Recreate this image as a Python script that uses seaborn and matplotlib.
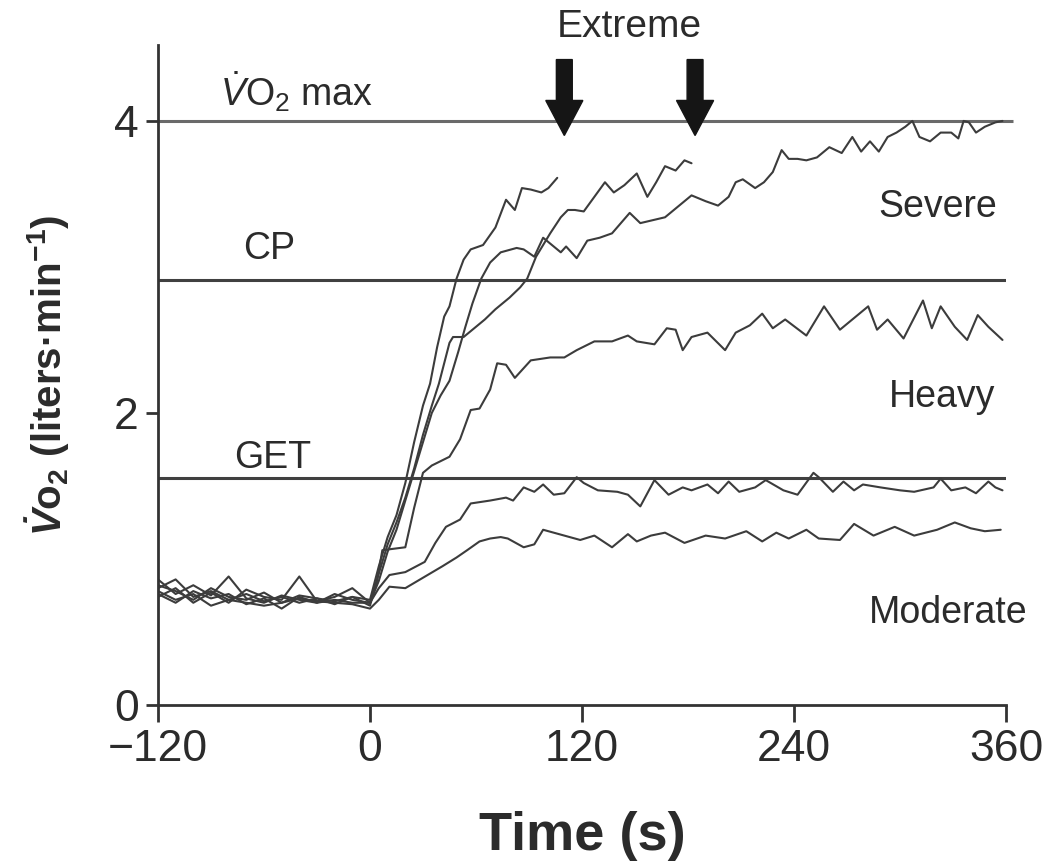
import numpy as np
import pandas as pd
import matplotlib
matplotlib.use("Agg")
import matplotlib.pyplot as plt
import seaborn as sns

# ---------------- data ----------------
t_base = [-120, -110, -100, -90, -80, -70, -60, -50, -40, -30, -20, -10]

base_ext1 = [0.80, 0.86, 0.74, 0.78, 0.72, 0.76, 0.71, 0.74, 0.70, 0.73, 0.71, 0.74]
t_ext1 = [0, 5, 10, 15, 20, 25, 30, 34, 38, 42, 45, 49, 53, 57, 64, 71, 77, 82, 86, 91, 97, 101, 106]
v_ext1 = [0.72, 0.95, 1.15, 1.30, 1.52, 1.80, 2.05, 2.20, 2.45, 2.66, 2.73, 2.92, 3.05, 3.12, 3.15, 3.27,
          3.46, 3.39, 3.54, 3.53, 3.51, 3.54, 3.61]

base_ext2 = [0.74, 0.80, 0.70, 0.77, 0.70, 0.79, 0.74, 0.72, 0.88, 0.71, 0.74, 0.80]
t_ext2 = [0, 5, 10, 15, 20, 25, 30, 35, 39, 45, 47, 53, 60, 65, 71, 79, 85, 89, 94, 102, 108, 112, 116,
          121, 127, 133, 138, 144, 151, 157, 162, 167, 173, 178, 182]
v_ext2 = [0.70, 0.90, 1.10, 1.25, 1.42, 1.62, 1.85, 2.05, 2.20, 2.48, 2.52, 2.52, 2.59, 2.64, 2.71, 2.79,
          2.86, 2.92, 3.07, 3.23, 3.34, 3.39, 3.39, 3.38, 3.48, 3.58, 3.51, 3.56, 3.64, 3.48, 3.58, 3.69,
          3.66, 3.73, 3.71]

base_sev = [0.86, 0.76, 0.82, 0.75, 0.88, 0.73, 0.70, 0.75, 0.72, 0.70, 0.76, 0.72]
t_sev = [0, 5, 10, 15, 20, 25, 30, 35, 40, 45, 50, 54, 58, 63, 68, 74, 83, 87, 93, 98, 102, 108, 111, 117,
         123, 130, 137, 142, 147, 153, 160, 167, 175, 182, 190, 197, 203, 207, 211, 218, 223, 228, 233,
         237, 242, 247, 253, 260, 267, 273, 278, 283, 288, 293, 298, 303, 307, 311, 317, 323, 329, 333,
         336, 339, 343, 348, 354, 358]
v_sev = [0.70, 0.85, 1.05, 1.20, 1.40, 1.60, 1.80, 2.00, 2.12, 2.22, 2.42, 2.59, 2.75, 2.92, 3.03, 3.10,
         3.13, 3.12, 3.07, 3.20, 3.16, 3.10, 3.14, 3.06, 3.18, 3.20, 3.23, 3.30, 3.37, 3.30, 3.32, 3.34,
         3.42, 3.49, 3.45, 3.42, 3.48, 3.58, 3.60, 3.54, 3.58, 3.65, 3.80, 3.74, 3.74, 3.73, 3.75, 3.82,
         3.78, 3.89, 3.79, 3.86, 3.79, 3.89, 3.92, 3.96, 4.00, 3.89, 3.86, 3.92, 3.92, 3.88, 4.00, 3.99,
         3.92, 3.96, 3.99, 4.00]

base_hvy = [0.82, 0.78, 0.72, 0.80, 0.74, 0.72, 0.77, 0.70, 0.75, 0.73, 0.69, 0.74]
t_hvy = [0, 4, 7, 20, 25, 30, 35, 45, 51, 57, 62, 68, 72, 77, 82, 91, 102, 110, 117, 127, 137, 146, 151,
         161, 168, 173, 177, 182, 191, 201, 207, 215, 222, 228, 235, 247, 257, 266, 274, 282, 287, 293,
         302, 313, 318, 323, 331, 338, 344, 350, 358]
v_hvy = [0.68, 0.85, 1.06, 1.08, 1.35, 1.59, 1.64, 1.70, 1.82, 2.02, 2.03, 2.16, 2.34, 2.33, 2.24, 2.36,
         2.38, 2.38, 2.43, 2.49, 2.49, 2.53, 2.49, 2.47, 2.58, 2.57, 2.43, 2.52, 2.55, 2.43, 2.55, 2.60,
         2.68, 2.58, 2.64, 2.53, 2.73, 2.57, 2.65, 2.73, 2.57, 2.64, 2.51, 2.77, 2.58, 2.73, 2.59, 2.50,
         2.67, 2.59, 2.50]

base_mod1 = [0.76, 0.70, 0.78, 0.73, 0.76, 0.69, 0.73, 0.66, 0.74, 0.70, 0.72, 0.70]
t_mod1 = [0, 5, 11, 20, 31, 37, 43, 51, 57, 68, 77, 81, 87, 93, 98, 104, 110, 117, 121, 129, 140, 146,
          153, 161, 169, 177, 182, 191, 197, 203, 209, 218, 224, 234, 242, 251, 254, 262, 268, 274, 279,
          289, 300, 308, 319, 323, 329, 337, 343, 350, 354, 358]
v_mod1 = [0.70, 0.80, 0.89, 0.91, 0.98, 1.11, 1.22, 1.27, 1.38, 1.40, 1.42, 1.40, 1.49, 1.46, 1.51, 1.44,
          1.45, 1.56, 1.52, 1.47, 1.46, 1.44, 1.36, 1.54, 1.44, 1.49, 1.47, 1.51, 1.45, 1.53, 1.46, 1.49,
          1.54, 1.47, 1.44, 1.59, 1.56, 1.46, 1.53, 1.47, 1.51, 1.49, 1.47, 1.46, 1.49, 1.55, 1.47, 1.49,
          1.45, 1.53, 1.49, 1.47]

base_mod2 = [0.78, 0.72, 0.76, 0.68, 0.72, 0.70, 0.68, 0.70, 0.73, 0.71, 0.70, 0.69]
t_mod2 = [0, 5, 11, 20, 27, 34, 41, 49, 55, 62, 68, 74, 78, 87, 93, 98, 104, 110, 119, 127, 137, 146, 151,
          159, 167, 178, 190, 201, 213, 222, 230, 237, 247, 254, 266, 274, 285, 297, 308, 321, 331, 340,
          348, 357]
v_mod2 = [0.66, 0.72, 0.81, 0.80, 0.85, 0.90, 0.95, 1.01, 1.06, 1.12, 1.14, 1.15, 1.14, 1.08, 1.10, 1.20,
          1.18, 1.16, 1.13, 1.16, 1.08, 1.17, 1.12, 1.16, 1.18, 1.11, 1.16, 1.14, 1.19, 1.12, 1.18, 1.14,
          1.20, 1.14, 1.13, 1.24, 1.16, 1.22, 1.16, 1.20, 1.25, 1.21, 1.19, 1.20]

vo2max_level = 4.0
cp_level = 2.91
get_level = 1.555
extreme_ends = [110, 184]

x_ticks = [-120, 0, 120, 240, 360]
y_ticks = [0, 2, 4]

# ---------------- build long table ----------------
trials = {
    "ext1": (base_ext1, t_ext1, v_ext1),
    "ext2": (base_ext2, t_ext2, v_ext2),
    "sev": (base_sev, t_sev, v_sev),
    "hvy": (base_hvy, t_hvy, v_hvy),
    "mod1": (base_mod1, t_mod1, v_mod1),
    "mod2": (base_mod2, t_mod2, v_mod2),
}
rows = []
for name, (bv, tt, vv) in trials.items():
    for t, v in zip(t_base + tt, bv + vv):
        rows.append({"trial": name, "t": t, "v": v})
df = pd.DataFrame(rows)

# ---------------- style ----------------
sns.set_style("ticks")
plt.rcParams["font.family"] = ["Liberation Sans", "DejaVu Sans"]
plt.rcParams["mathtext.fontset"] = "custom"
plt.rcParams["mathtext.rm"] = "Liberation Sans"
plt.rcParams["mathtext.it"] = "Liberation Sans:italic"
plt.rcParams["mathtext.bf"] = "Liberation Sans:bold"
has_bfit = "mathtext.bfit" in plt.rcParams
if has_bfit:
    plt.rcParams["mathtext.bfit"] = "Liberation Sans:italic:bold"

ink = "#2b2b2b"
fig = plt.figure(figsize=(10.63, 8.65), dpi=100)
ax = fig.add_axes([0.1486, 0.185, 0.7978, 0.763])

sns.lineplot(data=df, x="t", y="v", units="trial", estimator=None, sort=False,
             color="#3c3c3c", linewidth=1.5, ax=ax, legend=False)

# threshold lines
ax.hlines(vo2max_level, -120, 364, color="#6a6a6a", linewidth=2.2, clip_on=False, zorder=1)
ax.hlines(cp_level, -120, 360, color="#404040", linewidth=2.2, zorder=1)
ax.hlines(get_level, -120, 360, color="#404040", linewidth=2.2, zorder=1)

# extreme arrows
for xe in extreme_ends:
    ax.arrow(xe, 4.42, 0, -0.52, width=9, head_width=21, head_length=0.24,
             length_includes_head=True, color="#151515", clip_on=False, zorder=5)

fs = 28
ax.text(147, 4.64, "Extreme", ha="center", va="center", fontsize=fs, color=ink, clip_on=False)
if has_bfit:
    vmax_lbl = r"$\mathit{\dot{V}}\mathrm{O_2}$ max"
    ylab = r"$\mathbfit{\dot{V}}\mathbf{o_2}$ (liters·min$^{\mathbf{-1}}$)"
else:
    vmax_lbl = r"$\mathit{\dot{V}}\mathrm{O_2}$ max"
    ylab = r"$\mathbf{\dot{V}o_2}$ (liters·min$^{\mathbf{-1}}$)"
ax.text(-85, 4.2, vmax_lbl, ha="left", va="center", fontsize=27, color=ink)
ax.text(-57, 3.12, "CP", ha="center", va="center", fontsize=27, color=ink)
ax.text(-55, 1.69, "GET", ha="center", va="center", fontsize=27, color=ink)
ax.text(355, 3.41, "Severe", ha="right", va="center", fontsize=27, color=ink)
ax.text(354, 2.11, "Heavy", ha="right", va="center", fontsize=27, color=ink)
ax.text(372, 0.63, "Moderate", ha="right", va="center", fontsize=27, color=ink, clip_on=False)

# axes
ax.set_xlim(-120, 360)
ax.set_ylim(0, 4.52)
ax.set_xticks(x_ticks)
ax.set_xticklabels([("\u2212" + str(abs(x))) if x < 0 else str(x) for x in x_ticks])
ax.set_yticks(y_ticks)
ax.set_yticklabels([str(y) for y in y_ticks])
sns.despine(ax=ax)
for s in ("left", "bottom"):
    ax.spines[s].set_linewidth(2.0)
    ax.spines[s].set_color("#333333")
ax.tick_params(axis="x", length=12, width=2, color="#333333", labelsize=32, pad=5, labelcolor=ink)
ax.tick_params(axis="y", length=9, width=2, color="#333333", labelsize=32, pad=5, labelcolor=ink)

ax.set_xlabel("Time (s)", fontsize=39, fontweight="bold", labelpad=30, color=ink)
ax.set_ylabel(ylab, fontsize=29, fontweight="bold", labelpad=30, color=ink)

fig.savefig("out.png", dpi=100, facecolor="white")
